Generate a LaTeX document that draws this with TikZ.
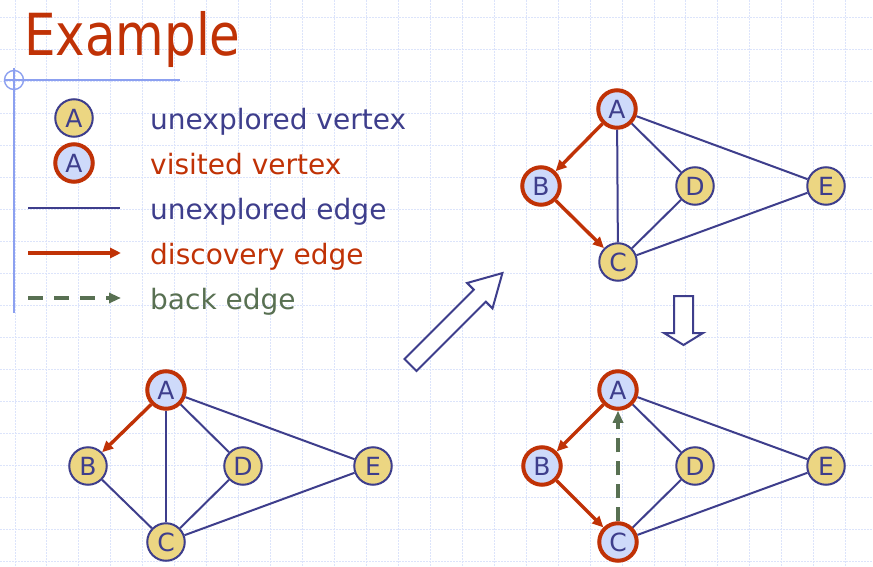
\documentclass[tikz,border=0pt]{standalone}
\usepackage{fontspec}
\setmainfont{DejaVu Sans}
\newfontfamily\titlefont{DejaVu Sans}[FakeStretch=0.86]
\usetikzlibrary{arrows.meta}
\definecolor{titlered}{RGB}{192,50,6}
\definecolor{inkblue}{RGB}{62,62,140}
\definecolor{backgreen}{RGB}{88,112,82}
\definecolor{vyellow}{RGB}{236,214,130}
\definecolor{vblue}{RGB}{206,218,250}
\definecolor{gridblue}{RGB}{220,228,251}
\definecolor{ruleblue}{RGB}{140,160,240}
\begin{document}
\begin{tikzpicture}[x=1pt,y=-1pt,
  gridline/.style={draw=gridblue, line width=1pt, dash pattern=on 1.6pt off 1.4pt},
  unexp/.style={circle, draw=inkblue, line width=2pt, fill=vyellow,
    minimum size=37.5pt, inner sep=0pt, text=inkblue,
    font=\fontsize{25}{25}\selectfont},
  visited/.style={unexp, draw=titlered, line width=4pt, fill=vblue},
  edge/.style={draw=inkblue, line width=2pt},
  disc/.style={draw=titlered, line width=3.4pt, -{Triangle[length=11pt,width=10pt]}},
  backedge/.style={draw=backgreen, line width=3.6pt, dash pattern=on 15pt off 11pt,
    -{Triangle[length=12pt,width=10pt]}},
  legtext/.style={anchor=base west, inner sep=0pt, font=\fontsize{28}{28}\selectfont},
  hollow/.style={draw=inkblue, line width=2pt, fill=white, line join=miter}
]
\useasboundingbox (0,0) rectangle (873,567);
\fill[white] (0,0) rectangle (873,567);

% background grid
\foreach \i in {0,...,27} \draw[gridline] ({15+31.95*\i},0) -- ++(0,567);
\foreach \j in {0,...,17} \draw[gridline] (0,{18+31.95*\j}) -- ++(873,0);

% title and its rule
\node[anchor=base west, inner sep=0pt, text=titlered,
  font=\titlefont\fontsize{58}{58}\selectfont] (title) at (24,56) {Example};
\draw[ruleblue, line width=1.6pt] (4,80) -- (180,80);
\draw[ruleblue, line width=1.6pt] (14,68) -- (14,313);
\draw[ruleblue, line width=1.4pt] (14,80) circle[radius=9.5];

% legend
\node[unexp] (lu) at (74,118) {A};
\node[visited] (lv) at (74,163) {A};
\coordinate (e1a) at (28,208); \coordinate (e1b) at (120,208);
\coordinate (e2a) at (28,253); \coordinate (e2b) at (121,253);
\coordinate (e3a) at (28,298); \coordinate (e3b) at (121,298);
\draw[edge] (e1a) -- (e1b);
\draw[disc] (e2a) -- (e2b);
\draw[backedge] (e3a) -- (e3b);
\node[legtext, text=inkblue] (t1) at (150,129.5) {unexplored vertex};
\node[legtext, text=titlered] (t2) at (150,174.5) {visited vertex};
\node[legtext, text=inkblue] (t3) at (150,219.5) {unexplored edge};
\node[legtext, text=titlered] (t4) at (150,264.5) {discovery edge};
\node[legtext, text=backgreen] (t5) at (150,309.5) {back edge};

% step 1: A visited, edge A-B discovered
\node[visited] (A1) at (166,390) {A};
\node[unexp] (B1) at (88,466) {B};
\node[unexp] (D1) at (243,466) {D};
\node[unexp] (E1) at (373,466) {E};
\node[unexp] (C1) at (166,542) {C};
\draw[edge] (A1) -- (C1);
\draw[edge] (A1) -- (D1);
\draw[edge] (A1) -- (E1);
\draw[edge] (B1) -- (C1);
\draw[edge] (D1) -- (C1);
\draw[edge] (E1) -- (C1);
\draw[disc] (A1) -- (B1);

% step 2: B visited, edge B-C discovered
\node[visited] (A2) at (617,109) {A};
\node[visited] (B2) at (541,186) {B};
\node[unexp] (D2) at (695,186) {D};
\node[unexp] (E2) at (826,186) {E};
\node[unexp] (C2) at (618,262) {C};
\draw[edge] (A2) -- (C2);
\draw[edge] (A2) -- (D2);
\draw[edge] (A2) -- (E2);
\draw[edge] (D2) -- (C2);
\draw[edge] (E2) -- (C2);
\draw[disc] (A2) -- (B2);
\draw[disc] (B2) -- (C2);

% step 3: C visited, edge C-A is a back edge
\node[visited] (A3) at (618,390) {A};
\node[visited] (B3) at (542,466) {B};
\node[unexp] (D3) at (695,466) {D};
\node[unexp] (E3) at (826,466) {E};
\node[visited] (C3) at (618,542) {C};
\draw[edge] (A3) -- (D3);
\draw[edge] (A3) -- (E3);
\draw[edge] (D3) -- (C3);
\draw[edge] (E3) -- (C3);
\draw[disc] (A3) -- (B3);
\draw[disc] (B3) -- (C3);
\draw[backedge, dash pattern=on 14pt off 9pt] (C3) -- (A3);

% hollow arrows between the steps
\draw[hollow] (404.5,359) -- (473.8,289.7) -- (467.1,283.0) -- (502.4,273.1)
  -- (492.5,308.4) -- (485.8,301.7) -- (416.5,371) -- cycle;
\draw[hollow] (674,296) -- (693,296) -- (693,333) -- (703,333) -- (683.5,345)
  -- (664,333) -- (674,333) -- cycle;
\end{tikzpicture}
\end{document}
